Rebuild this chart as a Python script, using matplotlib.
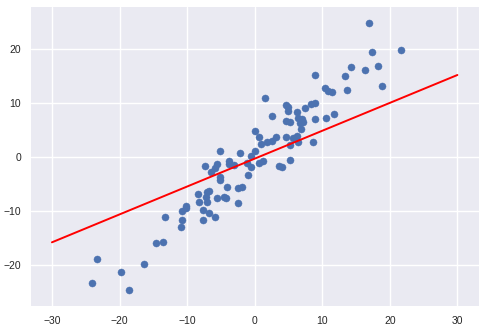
import matplotlib
matplotlib.use("Agg")
import matplotlib.pyplot as plt
import numpy as np

plt.style.use("seaborn-v0_8")

# scatter points
xs = [-24.0, -23.4, -19.8, -18.6, -16.4, -14.6, -13.6, -13.2, -10.9, -10.7,
      -10.7, -10.2, -10.1, -8.4, -8.3, -7.7, -7.7, -7.2, -7.0, -6.8,
      -5.8, -5.6, -7.1, -6.8, -7.4, -5.6, -5.8, -6.4, -5.2, -5.2,
      -5.2, -3.8, -3.8, -3.1, -4.1, -4.6, -4.3, -2.5, -1.8, -2.4,
      -1.0, -2.1, -0.6, 0.1, -1.2, -0.6, 0.7, 1.2, 0.0, 0.7,
      1.0, 1.8, 2.5, 3.1, 3.6, 4.0, 1.5, 2.5, 4.6, 5.0,
      5.0, 6.2, 7.4, 8.4, 8.9, 4.7, 5.3, 6.4, 7.0, 6.7,
      7.1, 8.9, 10.5, 11.8, 6.8, 4.6, 6.2, 6.4, 5.2, 8.6,
      5.6, 5.2, 10.4, 10.8, 11.5, 13.6, 16.9, 17.3, 21.7, 14.3,
      16.4, 18.2, 13.3, 18.9, 9.0]
ys = [-23.3, -18.9, -21.3, -24.6, -19.8, -15.9, -15.7, -11.1, -13.0, -11.7,
      -10.0, -9.4, -9.1, -6.9, -8.3, -11.7, -9.8, -7.4, -8.3, -10.4,
      -11.1, -7.6, -6.5, -6.3, -1.7, -1.3, -2.0, -2.8, -3.7, -4.3,
      1.1, -0.7, -1.3, -1.5, -5.5, -7.4, -7.6, -5.8, -5.6, -8.5,
      -3.4, 0.7, 0.2, 1.1, -1.1, -1.8, -1.1, -0.7, 4.8, 3.7,
      2.4, 2.8, 3.0, 3.8, -1.6, -1.8, 10.9, 7.6, 9.6, 9.3,
      8.5, 8.3, 9.1, 9.8, 10.0, 6.7, 6.5, 7.2, 7.0, 6.3,
      6.5, 7.0, 7.2, 8.0, 5.2, 3.7, 3.9, 2.8, 2.2, 2.8,
      3.5, -0.6, 12.8, 12.2, 12.0, 12.4, 24.8, 19.4, 19.8, 16.7,
      16.1, 16.9, 15.0, 13.1, 15.2]

# fitted line end points
line_x = [-30, 30]
line_y = [-15.8, 15.2]

fig = plt.figure(figsize=(4.84, 3.30), dpi=100)
ax = fig.add_axes([31 / 484, 24 / 330, 448 / 484, 299 / 330])
ax.scatter(xs, ys, s=26, color="#4C72B0", zorder=3)
ax.plot(line_x, line_y, color="red", lw=1.4, zorder=4)

ax.set_xlim(-33.1, 33.2)
ax.set_ylim(-27.6, 27.8)
ax.set_xticks([-30, -20, -10, 0, 10, 20, 30])
ax.set_yticks([-20, -10, 0, 10, 20])
ax.tick_params(labelsize=7.5)

fig.savefig("out.png", dpi=100)
